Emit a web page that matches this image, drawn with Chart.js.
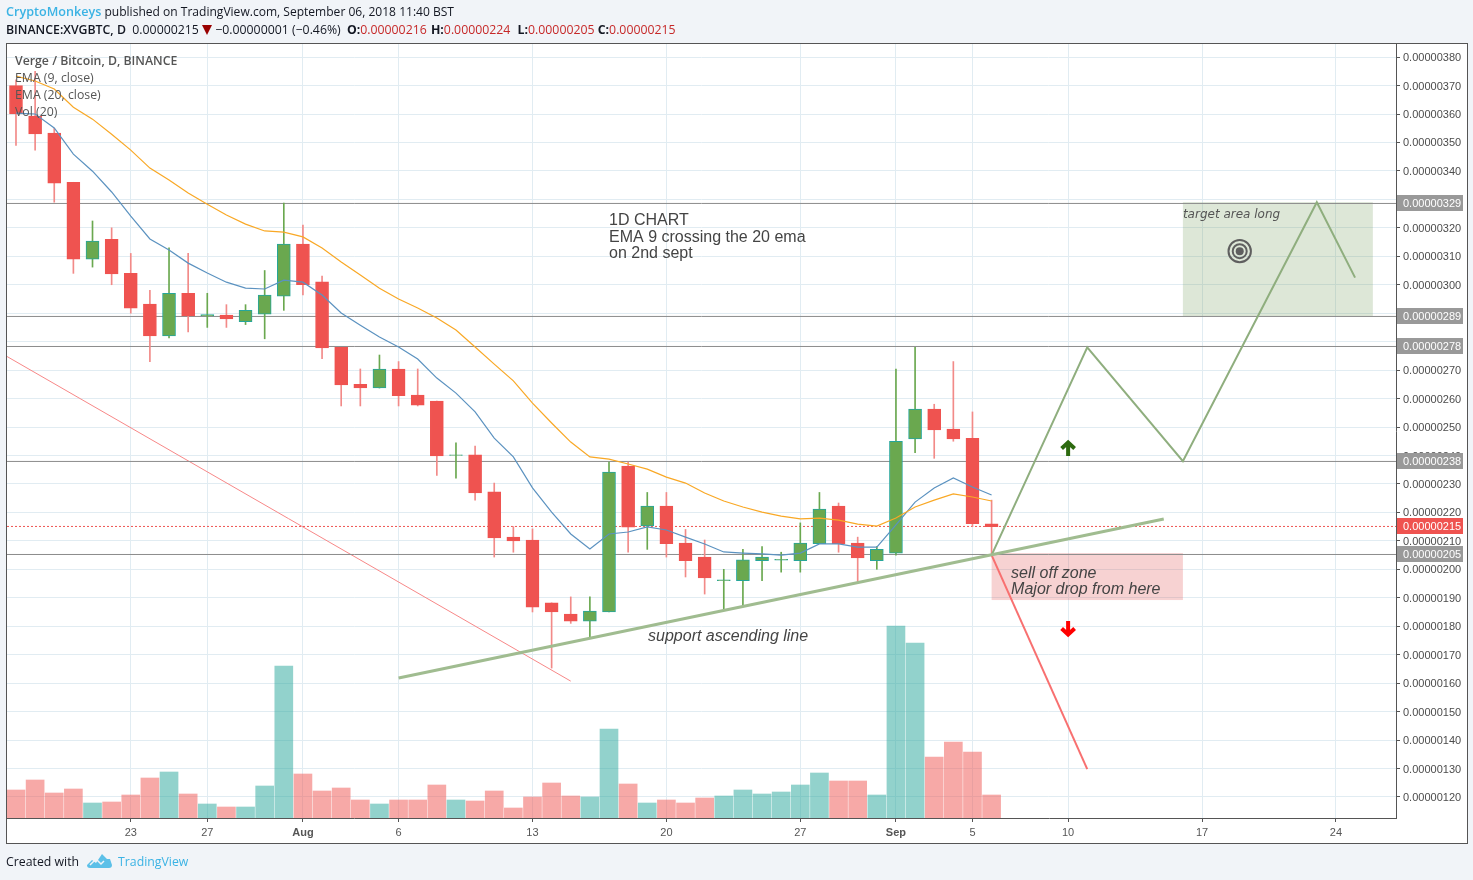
<!DOCTYPE html>
<html>
<head>
<meta charset="utf-8">
<title>XVGBTC</title>
<style>
  html, body { margin: 0; padding: 0; background: #f1f4f8; }
  body { width: 1473px; height: 880px; position: relative; overflow: hidden; font-family: "Open Sans", sans-serif; color: #131722; }
  canvas { position: absolute; left: 0; top: 0; }
  .txt { position: absolute; white-space: nowrap; font-size: 12.3px; line-height: 16px; }
  .legend { color: #555; left: 15px; }
  .blue { color: #3bb3e4; }
  .red { color: #c62828; }
  b { font-weight: 700; }
  .tri { display: inline-block; width: 0; height: 0; border-left: 5px solid transparent; border-right: 5px solid transparent; border-top: 10px solid #990000; vertical-align: -1px; }
</style>
</head>
<body>
<canvas id="chart" width="1473" height="880"></canvas>
<div class="txt" style="left:6px;top:4px;font-size:12.05px"><span class="blue" style="font-weight:600;font-size:12.6px">CryptoMonkeys</span> published on TradingView.com, September 06, 2018 11:40 BST</div>
<div class="txt" style="left:6px;top:22px"><b style="font-weight:600">BINANCE:XVGBTC, D</b>&nbsp; 0.00000215 <span class="tri"></span> −0.00000001 (−0.46%) <b style="margin-left:3px">O:</b><span class="red">0.00000216</span> <b style="margin-left:1px">H:</b><span class="red">0.00000224</span> <b style="margin-left:4px">L:</b><span class="red">0.00000205</span> <b>C:</b><span class="red">0.00000215</span></div>
<div class="txt legend" style="top:53px;font-weight:600">Verge / Bitcoin, D, BINANCE</div>
<div class="txt legend" style="top:70px">EMA (9, close)</div>
<div class="txt legend" style="top:87px">EMA (20, close)</div>
<div class="txt legend" style="top:104px">Vol (20)</div>
<div class="txt" style="left:6px;top:854px">Created with</div>
<svg style="position:absolute;left:87px;top:853px" width="25" height="16" viewBox="0 0 25 16"><path d="M0 12 L5 7 L9 10 L15 1 L20 6 L23 6 L25 12 Q25 15 22 15 L3 15 Q0 15 0 12 Z" fill="#5cc0e8"/><path d="M3 12 L9 6 L14 11 L17 8" fill="none" stroke="#f1f4f8" stroke-width="1.5"/></svg>
<div class="txt blue" style="left:118px;top:854px">TradingView</div>

<script src="https://cdn.jsdelivr.net/npm/chart.js"></script>
<script>
// prices are in units of 0.00000001 BTC, days counted from 1 Aug (Jul 17 = -15)
const days   = [-15,-14,-13,-12,-11,-10,-9,-8,-7,-6,-5,-4,-3,-2,-1,0,1,2,3,4,5,6,7,8,9,10,11,12,13,14,15,16,17,18,19,20,21,22,23,24,25,26,27,28,29,30,31,32,33,34,35,36];
const opens  = [370,359.3,353.3,336,309,316,304,293.2,282,297,289,289.3,287,289.7,296,314.3,301,278,265,263.7,270.4,261.2,259.1,240,240.2,227.2,211.3,210.3,188.2,184.3,181.8,185,236.3,215.2,222.2,209.2,204.3,196,196,203,203.2,203,209,222.2,209.2,203,205.7,245.8,256.3,249.3,246,216];
const highs  = [372,375,355,336,322.4,320,311,298,313,311,297,293,293,305,328.7,321,303,278,270.4,275.3,273,270.4,259.1,244.4,243.3,230.3,215,214.2,188.2,190.3,190.3,237.7,237.7,227,227,214,210.3,200,207,208,206,216.3,227,223.3,211.3,208,270.4,278,258,273,255.3,224.3];
const lows   = [349,347.3,329,304,306.2,300,290,273,281.3,283.4,285,285,286,281,291,296.4,274,257.4,257.4,263.7,257.4,257.4,233,232,224.3,204.3,206,185,165.3,181,176.2,185,206,207,204.3,197.3,191.3,186,187,196,199,199,209,206,195.2,200,205,241,239,245,215,205];
const closes = [360,353,335.7,309,315.3,303.8,291.8,282,297,289,289.5,288,291,296.4,314.3,300,277.8,264.8,263.7,270.4,261,257.7,239.8,240.2,226.8,211,210,186.7,185,181.8,185.3,234.2,214.8,222.2,209,203,197,196.3,203.3,204.3,203.5,209.2,221.2,209,204,207,245,256.3,249,245.8,216,215];
// volume is relative, the picture gives no volume scale
const volumes = [28,38,25,29,15,16,23,40,46,24,14,11,11,32,152,44,27,30,18,14,18,18,33,18,17,27,10,21,35,22,21,89,34,15,18,15,20,22,28,24,26,33,45,37,37,23,192,175,61,76,66,23];
const ema9  = [360.3,360,355.1,345.9,339.9,332.6,324.1,316.1,312.2,307.6,304.1,300.9,298.8,298.5,301.6,300.9,296.4,290.1,285.8,281.6,278.1,273.9,267.2,261.9,255.3,246.1,239.5,228.6,220.1,212.4,207.1,212.4,213.1,214.9,213.8,211.3,208.9,206.1,205.7,205.4,205,205.7,208.9,208.9,207.8,207.8,215.6,223.6,228.6,232.1,228.9,226.1];
const ema20 = [373.3,371.6,368.8,362.4,358.2,352.9,347.3,341,336.8,332.2,328.3,324.5,321.3,318.9,318.5,316.8,312.9,308,303.4,298.8,295,291.8,288.3,284.1,278.1,272.1,266.2,258.4,251.4,244.7,239.5,238.7,237,235.2,232.4,230.3,226.8,224,221.9,220.1,218.7,217.7,218,217.3,215.9,215.2,218,221.9,224.3,226.5,225.4,224];

const tickDays   = [-9,-5,0,5,12,19,26,31,35,40,47,54];
const tickLabels = ['23','27','Aug','6','13','20','27','Sep','5','10','17','24'];
const priceTicks = [380,370,360,350,340,330,320,310,300,290,280,270,260,250,240,230,220,210,200,190,180,170,160,150,140,130,120];
const hiddenTicks = [330,290,280]; // covered by the price tags
// drawn level, the tag shows it rounded
const levels     = [328.56,288.85,278.3,237.9,205.2];
const lastPrice  = 215.06;

// drawings on the chart
const supportDays = [5,45],        supportPrices = [161.8,217.7];
const fallDays    = [-15.5,14],    fallPrices    = [274.9,160.7];
const longDays    = [36,41,46,53,55], longPrices = [205,278,238,329,302.5];
const shortDays   = [36,41],       shortPrices   = [205,129.8];
const targetZone  = [46,55.93,329,289];
const sellZone    = [36,46,205.7,189.2];

const xMin = -15.47, xMax = 57.14;
const toPoints = (xs, ys) => xs.map((x, i) => ({ x: x, y: ys[i] }));
const isUp = i => closes[i] >= opens[i];
const price = v => (v / 1e8).toFixed(8);

const lineSet = (xs, ys, color, width, order, dash) => ({
  type: 'line', data: toPoints(xs, ys), borderColor: color, borderWidth: width,
  borderDash: dash || [], pointRadius: 0, tension: 0, order: order, yAxisID: 'y'
});

const datasets = [
  {
    type: 'bar', label: 'Vol', yAxisID: 'vol', order: 100, grouped: false, barThickness: 18,
    data: toPoints(days, volumes),
    backgroundColor: days.map((d, i) => isUp(i) ? 'rgba(38,166,154,0.5)' : 'rgba(239,83,80,0.5)')
  },
  lineSet(fallDays, fallPrices, '#f88888', 1, 85),
  {
    type: 'bar', label: 'wick', yAxisID: 'y', order: 70, grouped: false, barThickness: 1,
    data: days.map((d, i) => ({ x: d, y: [lows[i], highs[i]] })),
    backgroundColor: days.map((d, i) => isUp(i) ? '#6aa84f' : '#f28a88')
  },
  {
    type: 'bar', label: 'body', yAxisID: 'y', order: 60, grouped: false, barThickness: 13,
    data: days.map((d, i) => ({ x: d, y: [opens[i], closes[i]] })),
    backgroundColor: days.map((d, i) => isUp(i) ? '#6aa84f' : '#ef5350'),
    borderColor: days.map((d, i) => isUp(i) ? '#26a69a' : '#ef5350'),
    borderWidth: 1, borderSkipped: false
  },
  lineSet(days, ema9, '#5b92c0', 1.2, 50),
  lineSet(days, ema20, '#f9a825', 1.2, 49),
  lineSet(longDays, longPrices, '#8fae7e', 2, 40),
  lineSet(shortDays, shortPrices, '#f87070', 2, 39),
  lineSet(supportDays, supportPrices, '#a0bc90', 3, 38)
];
levels.forEach(l => datasets.push(lineSet([xMin, xMax], [l, l], '#8c8c8c', 1, 80)));
datasets.push(lineSet([xMin, xMax], [lastPrice, lastPrice], '#ef5350', 1, 79, [2, 2]));

// white panel, frame, zones behind the candles
const backdrop = {
  id: 'backdrop',
  beforeDraw(chart) {
    const c = chart.ctx;
    c.save();
    c.fillStyle = '#ffffff';
    c.fillRect(6, 43, 1462, 800);
    c.strokeStyle = '#555555';
    c.lineWidth = 1;
    c.strokeRect(6.5, 43.5, 1461, 800);
    c.restore();
  },
  beforeDatasetsDraw(chart) {
    const c = chart.ctx, x = chart.scales.x, y = chart.scales.y;
    const zone = (z, color) => {
      c.fillStyle = color;
      c.fillRect(x.getPixelForValue(z[0]), y.getPixelForValue(z[2]),
        x.getPixelForValue(z[1]) - x.getPixelForValue(z[0]), y.getPixelForValue(z[3]) - y.getPixelForValue(z[2]));
    };
    c.save();
    zone(targetZone, 'rgba(106,150,80,0.23)');
    zone(sellZone, 'rgba(224,80,80,0.26)');
    c.restore();
  }
};

// notes, arrows, target mark and the price tags
const notes = {
  id: 'notes',
  afterDraw(chart) {
    const c = chart.ctx, x = chart.scales.x, y = chart.scales.y;
    c.save();
    c.textBaseline = 'middle';
    c.textAlign = 'left';
    c.fillStyle = '#444444';

    c.font = '16px "Liberation Sans"';
    c.fillText('1D CHART', x.getPixelForValue(16), y.getPixelForValue(322.55));
    c.fillText('EMA 9 crossing the 20 ema', x.getPixelForValue(16), y.getPixelForValue(316.65));
    c.fillText('on 2nd sept', x.getPixelForValue(16), y.getPixelForValue(311.05));

    c.font = 'italic 16px "Liberation Sans"';
    c.fillText('support ascending line', x.getPixelForValue(18.04), y.getPixelForValue(176.5));
    c.fillText('sell off zone', x.getPixelForValue(37.02), y.getPixelForValue(198.65));
    c.fillText('Major drop from here', x.getPixelForValue(37.02), y.getPixelForValue(193.05));

    c.font = 'italic 12px "DejaVu Sans"';
    c.fillStyle = '#555555';
    c.fillText('target area long', x.getPixelForValue(46), y.getPixelForValue(324.5));

    // target mark
    const tx = x.getPixelForValue(48.97), ty = y.getPixelForValue(311.8);
    c.strokeStyle = '#5f5f5f';
    c.fillStyle = '#5f5f5f';
    c.lineWidth = 2;
    [11.2, 7].forEach(r => { c.beginPath(); c.arc(tx, ty, r, 0, Math.PI * 2); c.stroke(); });
    c.beginPath(); c.arc(tx, ty, 4, 0, Math.PI * 2); c.fill();

    // arrows
    const arrow = (px, py, dir, color) => {
      c.strokeStyle = color;
      c.lineWidth = 4;
      c.lineJoin = 'miter';
      c.beginPath();
      c.moveTo(px, py + 8 * dir); c.lineTo(px, py - 5 * dir);
      c.moveTo(px - 6.5, py + 0.5 * dir); c.lineTo(px, py - 5.5 * dir); c.lineTo(px + 6.5, py + 0.5 * dir);
      c.stroke();
    };
    arrow(x.getPixelForValue(40), y.getPixelForValue(242.6), 1, '#2d6a10');
    arrow(x.getPixelForValue(40), y.getPixelForValue(179), -1, '#ff0000');

    // price tags on the right axis
    c.font = '11px "Liberation Sans"';
    const tag = (v, bg) => {
      const py = Math.floor(y.getPixelForValue(v));
      c.fillStyle = bg;
      c.fillRect(1397, py - 8, 66, 16);
      c.fillStyle = '#ffffff';
      c.fillText(price(Math.round(v)), 1403, py + 1);
    };
    levels.forEach(l => tag(l, '#999999'));
    tag(lastPrice, '#ef5350');
    c.restore();
  }
};

new Chart(document.getElementById('chart'), {
  data: { datasets: datasets },
  plugins: [backdrop, notes],
  options: {
    responsive: false,
    animation: false,
    layout: { padding: { left: 7, top: 44, right: 5, bottom: 37 } },
    plugins: { legend: { display: false }, tooltip: { enabled: false } },
    scales: {
      x: {
        type: 'linear', min: xMin, max: xMax, offset: false,
        afterBuildTicks: s => { s.ticks = tickDays.map(v => ({ value: v })); },
        afterFit: s => { s.height = 25; },
        border: { color: '#555555' },
        grid: { color: '#e1ecf2', tickColor: '#555555', tickLength: 4, offset: false },
        ticks: {
          autoSkip: false, maxRotation: 0, padding: 4, color: '#555555',
          font: c => ({ family: '"Liberation Sans"', size: 11, weight: (c.index === 2 || c.index === 7) ? 'bold' : 'normal' }),
          callback: (v, i) => tickLabels[i]
        }
      },
      y: {
        position: 'right', min: 112.6, max: 384.6,
        afterBuildTicks: s => { s.ticks = priceTicks.map(v => ({ value: v })); },
        afterFit: s => { s.width = 72; },
        border: { color: '#555555' },
        grid: { color: '#e1ecf2', tickColor: '#555555', tickLength: 4 },
        ticks: {
          autoSkip: false, padding: 3, labelOffset: 1, color: '#4c4c4c',
          font: { family: '"Liberation Sans"', size: 11 },
          callback: v => hiddenTicks.includes(v) ? '' : price(v)
        }
      },
      vol: { display: false, min: 0, max: 774 }
    }
  }
});
</script>
</body>
</html>
